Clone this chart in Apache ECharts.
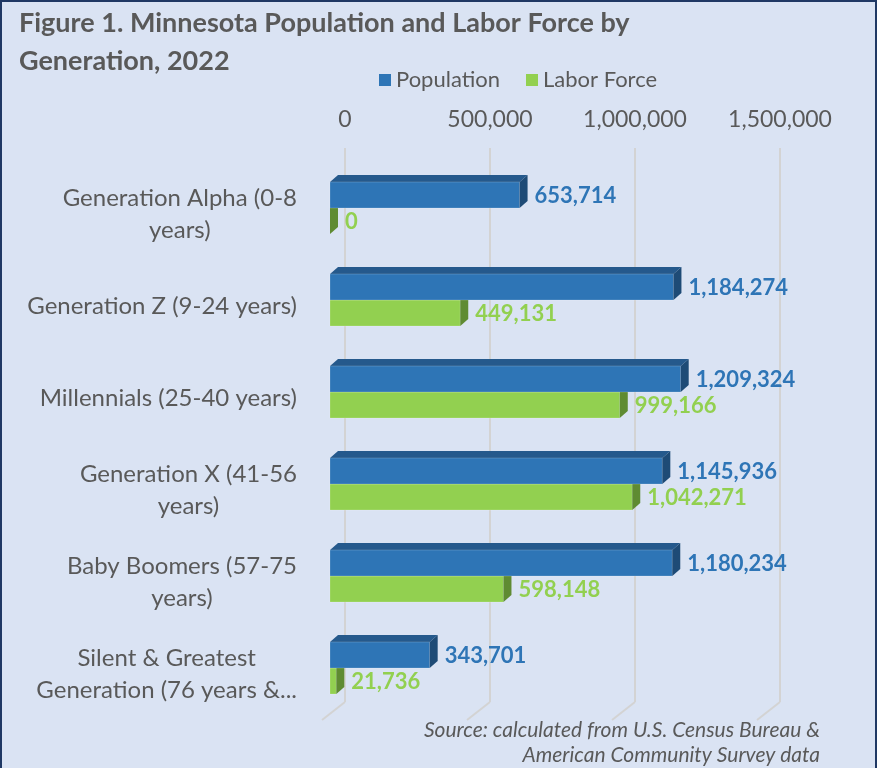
<!DOCTYPE html>
<html>
<head>
<meta charset="utf-8">
<script src="https://cdn.jsdelivr.net/npm/echarts@6/dist/echarts.min.js"></script>
<style>
  html, body { margin: 0; padding: 0; background: #DAE3F3; }
  #frame { position: absolute; left: 0; top: 0; width: 873px; height: 770px; border: 2px solid #1F3864; background: #DAE3F3; }
  #chart { position: absolute; left: 0; top: 0; width: 877px; height: 768px; }
</style>
</head>
<body>
<div id="frame"></div>
<div id="chart"></div>
<script>
// ---- data ----
var categories = [
  'Generation Alpha (0-8\nyears)',
  'Generation Z (9-24 years)',
  'Millennials (25-40 years)',
  'Generation X (41-56\nyears)',
  'Baby Boomers (57-75\nyears)',
  'Silent & Greatest\nGeneration (76 years &...'
];
var population = [653714, 1184274, 1209324, 1145936, 1180234, 343701];
var laborForce = [0, 449131, 999166, 1042271, 598148, 21736];
var xTicks = [0, 500000, 1000000, 1500000];
var titleText = 'Figure 1. Minnesota Population and Labor Force by\nGeneration, 2022';
var sourceLines = ['Source: calculated from U.S. Census Bureau &', 'American Community Survey data'];

var FONT = 'Lato, "Open Sans", sans-serif';
var GRAY = '#595959';
var chart = echarts.init(document.getElementById('chart'), null, { renderer: 'canvas' });

function fmt(v) { return Number(v).toLocaleString('en-US'); }

function barRenderer(which, front, top, side, labelColor) {
  return function (params, api) {
    var val = api.value(0), cat = api.value(1);
    var p0 = api.coord([0, cat]);
    var p1 = api.coord([val, cat]);
    var x0 = p0[0], x1 = p1[0], cy = p0[1];
    var h = 26, dx = 8, dy = -7;
    var y0 = which === 'top' ? cy - h : cy;
    var y1 = y0 + h;
    var children = [];
    if (x1 > x0) {
      children.push({ type: 'polygon', shape: { points: [[x0, y0], [x0 + dx, y0 + dy], [x1 + dx, y0 + dy], [x1, y0]] }, style: { fill: top } });
      children.push({ type: 'rect', shape: { x: x0, y: y0, width: x1 - x0, height: h }, style: { fill: front, stroke: 'rgba(255,255,255,0.18)', lineWidth: 1 } });
    }
    children.push({ type: 'polygon', shape: { points: [[x1, y0], [x1 + dx, y0 + dy], [x1 + dx, y1 + dy], [x1, y1]] }, style: { fill: side } });
    children.push({ type: 'text', x: x1 + dx + 7, y: (y0 + y1) / 2 + 1,
      style: { text: fmt(val), fill: labelColor, font: 'bold 22px ' + FONT, verticalAlign: 'middle', align: 'left' } });
    return { type: 'group', children: children };
  };
}

var option = {
  animation: false,
  backgroundColor: 'transparent',
  title: [
    { text: titleText, left: 14, top: -1,
      textStyle: { fontFamily: FONT, fontWeight: 'bold', fontSize: 27, color: GRAY, lineHeight: 38 } }
  ],
  graphic: sourceLines.map(function (t, i) {
    return { type: 'text', right: 57, top: 720 + i * 25,
      style: { text: t, font: 'italic 21px ' + FONT, fill: GRAY } };
  }),
  legend: {
    data: ['Population', 'Labor Force'],
    left: 374, top: 64,
    icon: 'rect', itemWidth: 12, itemHeight: 12, itemGap: 26,
    textStyle: { fontFamily: FONT, fontSize: 22, color: GRAY }
  },
  grid: [
    { left: 345, width: 435, top: 148, height: 554 },
    { left: 330, width: 435, top: 162, height: 552 }
  ],
  xAxis: [
    { gridIndex: 0, type: 'value', position: 'top', min: 0, max: 1500000, interval: 500000,
      axisLine: { show: false }, axisTick: { show: false },
      axisLabel: { margin: 17, fontFamily: FONT, fontSize: 23, color: GRAY, formatter: function (v) { return fmt(v); } },
      splitLine: { show: true, lineStyle: { color: '#D3D3D3', width: 2 } } },
    { gridIndex: 1, type: 'value', min: 0, max: 1500000, show: false }
  ],
  yAxis: [
    { gridIndex: 0, type: 'category', data: categories, inverse: true, show: false },
    { gridIndex: 1, type: 'category', data: categories, inverse: true,
      axisLine: { show: false }, axisTick: { show: false }, splitLine: { show: false },
      axisLabel: {
        margin: 33, align: 'right', padding: [13, 0, 0, 0],
        formatter: function (v) { return v.split('\n').map(function (l) { return '{c|' + l + '}'; }).join('\n'); },
        rich: { c: { align: 'center', fontFamily: FONT, fontSize: 24, lineHeight: 32, color: GRAY } }
      } }
  ],
  series: [
    { type: 'custom', name: 'floor', xAxisIndex: 0, yAxisIndex: 0, silent: true,
      data: xTicks.map(function (v) { return [v, 0]; }),
      encode: { x: 0, y: 1 },
      renderItem: function (params, api) {
        var x = api.coord([api.value(0), 0])[0];
        var yb = params.coordSys.y + params.coordSys.height;
        return { type: 'line', shape: { x1: x, y1: yb, x2: x - 23, y2: yb + 18 }, style: { stroke: '#D3D3D3', lineWidth: 2 } };
      } },
    { type: 'custom', name: 'Labor Force', xAxisIndex: 1, yAxisIndex: 1,
      itemStyle: { color: '#92D050' },
      data: laborForce.map(function (v, i) { return [v, i]; }),
      encode: { x: 0, y: 1 },
      renderItem: barRenderer('bottom', '#92D050', '#6F9C3C', '#5F8B32', '#92D050') },
    { type: 'custom', name: 'Population', xAxisIndex: 1, yAxisIndex: 1,
      itemStyle: { color: '#2E75B6' },
      data: population.map(function (v, i) { return [v, i]; }),
      encode: { x: 0, y: 1 },
      renderItem: barRenderer('top', '#2E75B6', '#25598C', '#1E4B76', '#2E75B6') }
  ]
};
chart.setOption(option);
</script>
</body>
</html>
